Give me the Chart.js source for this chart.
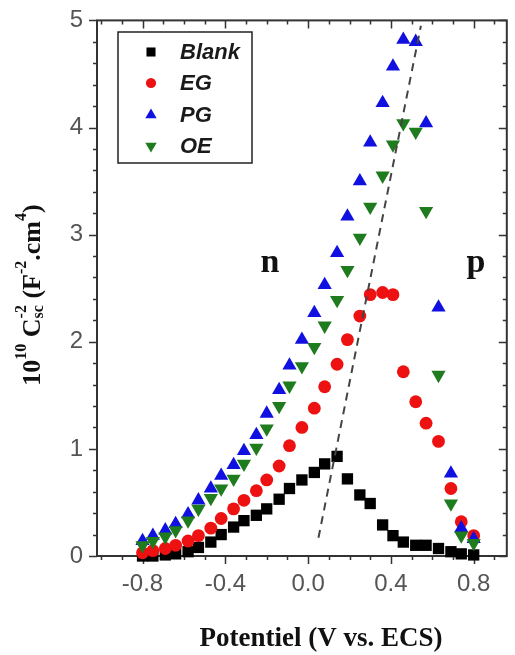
<!DOCTYPE html>
<html>
<head>
<meta charset="utf-8">
<script src="https://cdn.jsdelivr.net/npm/chart.js@4.4.0/dist/chart.umd.min.js"></script>
<style>
  body { margin: 0; background: #fff; }
  #wrap { width: 515px; height: 655px; }
</style>
</head>
<body>
<div id="wrap"><canvas id="chart" width="515" height="655"></canvas></div>
<script>
// Mott-Schottky data. Potential in V vs. ECS, same for all series.
var potential = [-0.80, -0.75, -0.69, -0.64, -0.58, -0.53, -0.47, -0.42, -0.36, -0.31,
                 -0.25, -0.20, -0.14, -0.09, -0.03, 0.03, 0.08, 0.14, 0.19, 0.25,
                 0.30, 0.36, 0.41, 0.46, 0.52, 0.57, 0.63, 0.69, 0.74, 0.80];
var blank = [0.00, 0.00, 0.01, 0.02, 0.04, 0.08, 0.13, 0.20, 0.27, 0.33,
             0.38, 0.44, 0.53, 0.63, 0.71, 0.78, 0.86, 0.93, 0.72, 0.57,
             0.49, 0.29, 0.19, 0.13, 0.10, 0.10, 0.07, 0.04, 0.02, 0.01];
var eg = [0.03, 0.05, 0.07, 0.10, 0.14, 0.19, 0.26, 0.35, 0.44, 0.52,
          0.61, 0.71, 0.84, 1.03, 1.20, 1.38, 1.58, 1.79, 2.02, 2.24,
          2.44, 2.46, 2.44, 1.72, 1.44, 1.24, 1.07, 0.63, 0.32, 0.19];
var pg = [0.14, 0.19, 0.24, 0.30, 0.39, 0.52, 0.63, 0.75, 0.85, 0.98,
          1.13, 1.33, 1.55, 1.78, 2.02, 2.27, 2.53, 2.83, 3.17, 3.50,
          3.86, 4.23, 4.57, 4.82, 4.80, 4.04, 2.32, 0.77, 0.26, 0.16];
var oe = [0.10, 0.14, 0.18, 0.24, 0.33, 0.44, 0.54, 0.63, 0.72, 0.86,
          1.01, 1.19, 1.40, 1.59, 1.77, 1.95, 2.15, 2.39, 2.67, 2.97,
          3.26, 3.55, 3.84, 4.04, 3.96, 3.22, 1.69, 0.49, 0.19, 0.12];
// dashed linear fit
var fitX = [0.05, 0.545];
var fitY = [0.17, 4.95];

var xTicks = [-0.8, -0.4, 0.0, 0.4, 0.8];
var yTicks = [0, 1, 2, 3, 4, 5];
var seriesNames = ['Blank', 'EG', 'PG', 'OE'];

function toPoints(xs, ys) {
  return xs.map(function (x, i) { return { x: x, y: ys[i] }; });
}

var styles = [
  { color: '#000000', pointStyle: 'rect', radius: 8, rotation: 0 },
  { color: '#ee1111', pointStyle: 'circle', radius: 6.4, rotation: 0 },
  { color: '#1010e0', pointStyle: 'triangle', radius: 8.2, rotation: 0 },
  { color: '#1e7b1e', pointStyle: 'triangle', radius: 8.2, rotation: 180 }
];
var seriesData = [blank, eg, pg, oe];

var datasets = seriesData.map(function (vals, i) {
  var s = styles[i];
  return {
    label: seriesNames[i],
    data: toPoints(potential, vals),
    showLine: false,
    pointStyle: s.pointStyle,
    pointRotation: s.rotation,
    pointRadius: s.radius,
    pointHoverRadius: s.radius,
    pointBackgroundColor: s.color,
    pointBorderColor: s.color,
    pointBorderWidth: 0,
    order: 3 - i,
    clip: false
  };
});
datasets.push({
  label: 'fit',
  data: toPoints(fitX, fitY),
  showLine: true,
  borderColor: '#444',
  borderWidth: 2,
  borderDash: [8, 6],
  pointRadius: 0,
  order: -1
});

// frame with ticks all round (inward on top/right, outward on left/bottom)
var framePlugin = {
  id: 'frame',
  beforeDatasetsDraw: function (chart) {
    var ctx = chart.ctx, a = chart.chartArea;
    var xs = chart.scales.x, ys = chart.scales.y;
    ctx.save();
    ctx.strokeStyle = '#333';
    ctx.lineWidth = 2;
    ctx.strokeRect(a.left, a.top, a.right - a.left, a.bottom - a.top);
    ctx.lineWidth = 1.5;
    ctx.beginPath();
    for (var v = -1.0; v <= 0.95; v += 0.1) {
      var px = Math.round(xs.getPixelForValue(v)) + 0.5;
      var major = Math.abs(Math.round(v * 10) % 4) === 0;
      var len = major ? 8 : 4;
      ctx.moveTo(px, a.bottom); ctx.lineTo(px, a.bottom + len);
      ctx.moveTo(px, a.top); ctx.lineTo(px, a.top + len);
    }
    for (var k = 0; k <= 25; k++) {
      var yv = k * 0.2;
      var py = Math.round(ys.getPixelForValue(yv)) + 0.5;
      var len2 = (k % 5 === 0) ? 8 : 4;
      ctx.moveTo(a.left, py); ctx.lineTo(a.left - len2, py);
      ctx.moveTo(a.right, py); ctx.lineTo(a.right - len2, py);
    }
    ctx.stroke();
    ctx.restore();
  },
  afterDraw: function (chart) {
    var ctx = chart.ctx;
    ctx.save();
    // legend box
    ctx.strokeStyle = '#222';
    ctx.lineWidth = 1.5;
    ctx.fillStyle = '#fff';
    ctx.fillRect(118, 32, 134, 131);
    ctx.strokeRect(118, 32, 134, 131);
    var rowY = [52, 83, 115, 146];
    for (var i = 0; i < seriesNames.length; i++) {
      var s = styles[i];
      ctx.fillStyle = s.color;
      ctx.strokeStyle = s.color;
      Chart.helpers.drawPoint(ctx, {
        pointStyle: s.pointStyle, radius: s.radius * 0.8,
        rotation: s.rotation, borderWidth: 0
      }, 151, rowY[i]);
      ctx.fillStyle = '#1a1a1a';
      ctx.font = 'italic bold 22px "Liberation Sans"';
      ctx.textBaseline = 'middle';
      ctx.textAlign = 'left';
      ctx.fillText(seriesNames[i], 180, rowY[i] + 1);
    }
    // n / p labels
    ctx.fillStyle = '#111';
    ctx.font = 'bold 34px "Liberation Serif"';
    ctx.textBaseline = 'alphabetic';
    ctx.textAlign = 'center';
    ctx.fillText('n', 270, 272);
    ctx.fillText('p', 476, 272);
    // x title
    ctx.font = 'bold 27px "Liberation Serif"';
    ctx.fillText('Potentiel (V vs. ECS)', 321, 646);
    // y title, rotated, with super/subscripts
    var big = 'bold 26px "Liberation Serif"';
    var small = 'bold 16px "Liberation Serif"';
    var parts = [
      { t: '10', f: big, dy: 0 },
      { t: '10', f: small, dy: -11 },
      { t: ' C', f: big, dy: 0 },
      { t: '-2', f: small, dy: -11, stack: true },
      { t: 'sc', f: small, dy: 6 },
      { t: ' (F', f: big, dy: 0 },
      { t: '-2', f: small, dy: -11 },
      { t: '.cm', f: big, dy: 0 },
      { t: '4', f: small, dy: -11 },
      { t: ')', f: big, dy: 0 }
    ];
    var total = 0, held = 0;
    parts.forEach(function (p) {
      ctx.font = p.f;
      p.w = ctx.measureText(p.t).width;
      if (p.stack) { held = p.w; return; }
      total += Math.max(p.w, held); held = 0;
    });
    ctx.translate(31, 295);
    ctx.rotate(-Math.PI / 2);
    ctx.textAlign = 'left';
    ctx.textBaseline = 'middle';
    var x = -total / 2;
    held = 0;
    parts.forEach(function (p) {
      ctx.font = p.f;
      ctx.fillText(p.t, x, p.dy + 2);
      if (p.stack) { held = p.w; return; }
      x += Math.max(p.w, held); held = 0;
    });
    ctx.restore();
  }
};

new Chart(document.getElementById('chart').getContext('2d'), {
  type: 'scatter',
  data: { datasets: datasets },
  options: {
    responsive: false,
    animation: false,
    layout: { padding: { top: 16, right: 2, left: 0, bottom: 0 } },
    plugins: { legend: { display: false }, tooltip: { enabled: false } },
    scales: {
      x: {
        type: 'linear', min: -1.02, max: 0.96,
        grid: { display: false, drawTicks: true, tickLength: 8 },
        border: { display: false },
        afterBuildTicks: function (scale) {
          scale.ticks = xTicks.map(function (v) { return { value: v }; });
        },
        afterFit: function (scale) { scale.height = 99; },
        ticks: {
          color: '#555', padding: 6,
          font: { family: '"Liberation Sans"', size: 24 },
          callback: function (v) { return v.toFixed(1); }
        }
      },
      y: {
        type: 'linear', min: 0, max: 5,
        grid: { display: false, drawTicks: true, tickLength: 8 },
        border: { display: false },
        afterBuildTicks: function (scale) {
          scale.ticks = yTicks.map(function (v) { return { value: v }; });
        },
        afterFit: function (scale) { scale.width = 97; },
        ticks: {
          color: '#555', padding: 6,
          font: { family: '"Liberation Sans"', size: 24 }
        }
      }
    }
  },
  plugins: [framePlugin]
});
</script>
</body>
</html>
